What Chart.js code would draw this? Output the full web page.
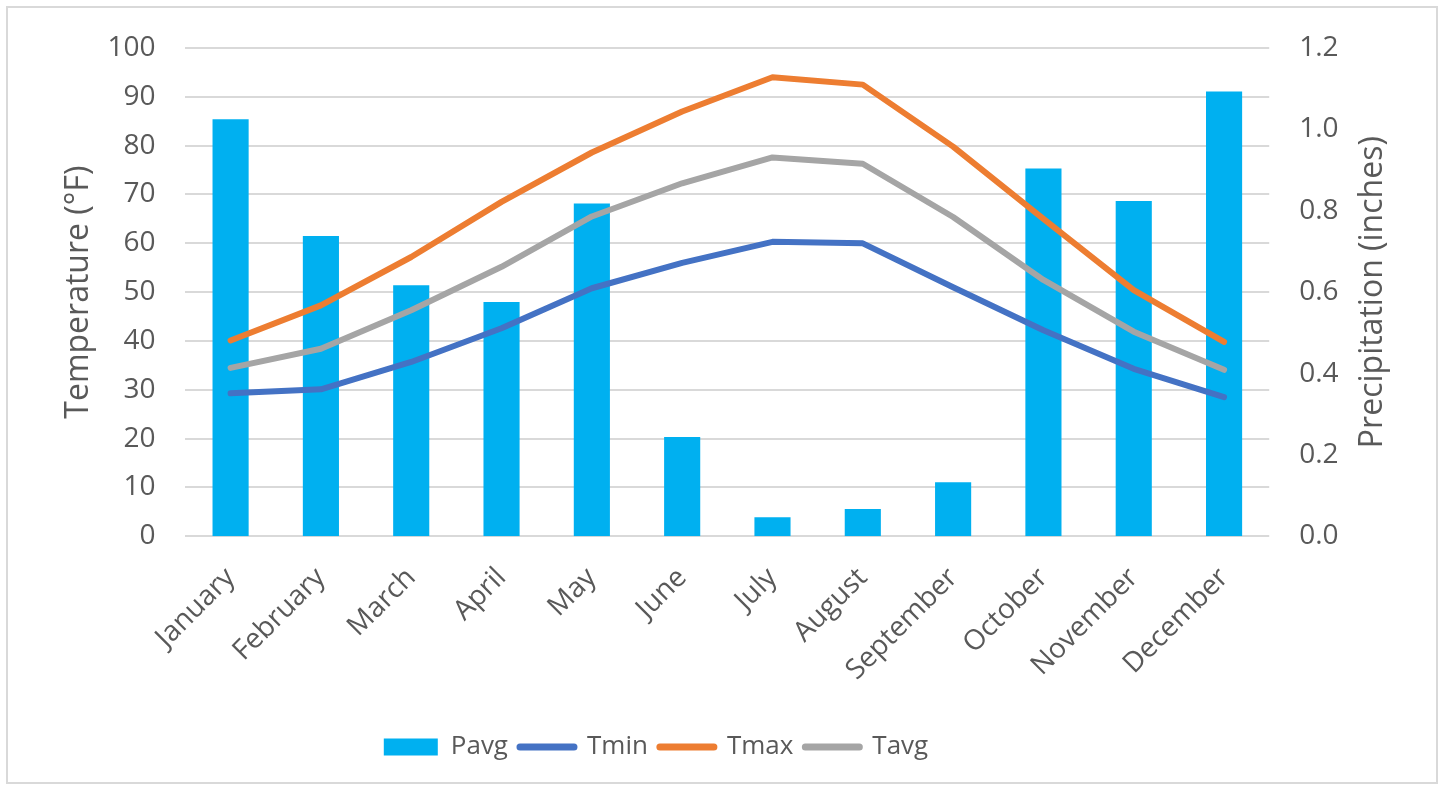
<!DOCTYPE html>
<html lang="en">
<head>
    <meta charset="UTF-8">
    <title>Temperature and Precipitation</title>
    <script src="https://cdn.jsdelivr.net/npm/chart.js"></script>
    <style>
        body { margin: 0; background: #fff; }
        .chart-container {
            position: absolute;
            left: 6px;
            top: 6px;
            width: 1428px;
            height: 774px;
            border: 2px solid #d9d9d9;
        }
    </style>
</head>
<body>
    <div class="chart-container">
        <canvas id="climateChart"></canvas>
    </div>

    <script>
        const months = ['January', 'February', 'March', 'April', 'May', 'June',
            'July', 'August', 'September', 'October', 'November', 'December'];
        const pavg = [1.025, 0.738, 0.617, 0.576, 0.818, 0.244, 0.047, 0.067, 0.133, 0.904, 0.824, 1.093];
        const tmin = [29.3, 30.1, 35.7, 42.6, 50.8, 56.0, 60.3, 60.0, 51.0, 42.2, 34.3, 28.5];
        const tmax = [40.1, 47.3, 57.2, 68.5, 78.6, 87.0, 94.0, 92.5, 79.8, 65.0, 50.4, 39.8];
        const tavg = [34.5, 38.4, 46.3, 55.2, 65.5, 72.3, 77.6, 76.3, 65.4, 52.5, 41.9, 34.1];

        const textColor = '#595959';
        const gridColor = '#d9d9d9';
        const fontFamily = '"Open Sans", sans-serif';
        const titleSize = 32;

        Chart.defaults.font.family = fontFamily;
        Chart.defaults.color = textColor;

        function lineSet(label, data, color) {
            return {
                type: 'line',
                label: label,
                data: data,
                yAxisID: 'y',
                borderColor: color,
                backgroundColor: color,
                borderWidth: 6,
                borderCapStyle: 'round',
                borderJoinStyle: 'round',
                pointRadius: 0,
                tension: 0,
                order: 0
            };
        }

        // chart.js counts tick padding twice on vertical axes and also pads
        // above/below them; undo both so the plot uses the layout padding
        function trimAxis(scale) {
            scale.width -= 30;
            scale.paddingTop = 0;
            scale.paddingBottom = 0;
        }

        const extras = {
            id: 'extras',
            afterLayout(chart) {
                // legend sits a bit left of centre in the original
                chart.legend.left -= 70;
                chart.legend.right -= 70;
            },
            // right axis title reads bottom-to-top, so draw it ourselves
            afterDraw(chart) {
                const s = chart.scales.y1;
                const ctx = chart.ctx;
                ctx.save();
                ctx.font = titleSize + 'px ' + fontFamily;
                ctx.fillStyle = textColor;
                ctx.textAlign = 'center';
                ctx.textBaseline = 'middle';
                ctx.translate(s.right - titleSize * 0.6, (s.top + s.bottom) / 2);
                ctx.rotate(-Math.PI / 2);
                ctx.fillText('Precipitation (inches)', 0, 0);
                ctx.restore();
            }
        };

        new Chart(document.getElementById('climateChart'), {
            data: {
                labels: months,
                datasets: [
                    {
                        type: 'bar',
                        label: 'Pavg',
                        data: pavg,
                        yAxisID: 'y1',
                        backgroundColor: '#00b0f0',
                        categoryPercentage: 1,
                        barPercentage: 0.4,
                        order: 1
                    },
                    lineSet('Tmin', tmin, '#4472c4'),
                    lineSet('Tmax', tmax, '#ed7d31'),
                    lineSet('Tavg', tavg, '#a5a5a5')
                ]
            },
            options: {
                responsive: true,
                maintainAspectRatio: false,
                animation: false,
                layout: {
                    autoPadding: false,
                    padding: { left: 52, right: 44, top: 40, bottom: 12 }
                },
                plugins: {
                    tooltip: { enabled: false },
                    legend: {
                        position: 'bottom',
                        labels: {
                            font: { size: 26 },
                            color: textColor,
                            boxWidth: 54,
                            boxHeight: 17,
                            padding: 12,
                            usePointStyle: true,
                            pointStyleWidth: 54,
                            generateLabels(chart) {
                                return chart.data.datasets.map((ds, i) => ({
                                    text: ds.label,
                                    datasetIndex: i,
                                    fillStyle: ds.backgroundColor,
                                    strokeStyle: ds.type === 'bar' ? ds.backgroundColor : ds.borderColor,
                                    lineWidth: ds.type === 'bar' ? 0 : 7,
                                    lineCap: 'round',
                                    pointStyle: ds.type === 'bar' ? 'rect' : 'line',
                                    fontColor: textColor,
                                    hidden: false
                                }));
                            }
                        }
                    }
                },
                scales: {
                    x: {
                        grid: { display: false, drawTicks: false },
                        border: { display: false },
                        ticks: {
                            font: { size: 28 },
                            color: textColor,
                            maxRotation: 45,
                            minRotation: 45,
                            padding: 25
                        },
                        afterFit(scale) {
                            scale.height += 10;
                        }
                    },
                    y: {
                        position: 'left',
                        min: 0,
                        max: 100,
                        grid: { color: gridColor, lineWidth: 2, drawTicks: false },
                        border: { display: false },
                        ticks: {
                            stepSize: 10,
                            font: { size: 28 },
                            color: textColor,
                            padding: 30
                        },
                        title: {
                            display: true,
                            text: 'Temperature (°F)',
                            font: { size: titleSize },
                            color: textColor,
                            padding: { top: 0, bottom: 9 }
                        },
                        afterFit: trimAxis
                    },
                    y1: {
                        position: 'right',
                        min: 0,
                        max: 1.2,
                        grid: { display: false, drawTicks: false },
                        border: { display: false },
                        ticks: {
                            stepSize: 0.2,
                            font: { size: 28 },
                            color: textColor,
                            padding: 30,
                            callback: v => v.toFixed(1)
                        },
                        title: {
                            display: true,
                            text: 'Precipitation (inches)',
                            font: { size: titleSize },
                            color: 'rgba(0,0,0,0)',
                            padding: { top: 0, bottom: 15 }
                        },
                        afterFit: trimAxis
                    }
                }
            },
            plugins: [extras]
        });
    </script>
</body>
</html>
